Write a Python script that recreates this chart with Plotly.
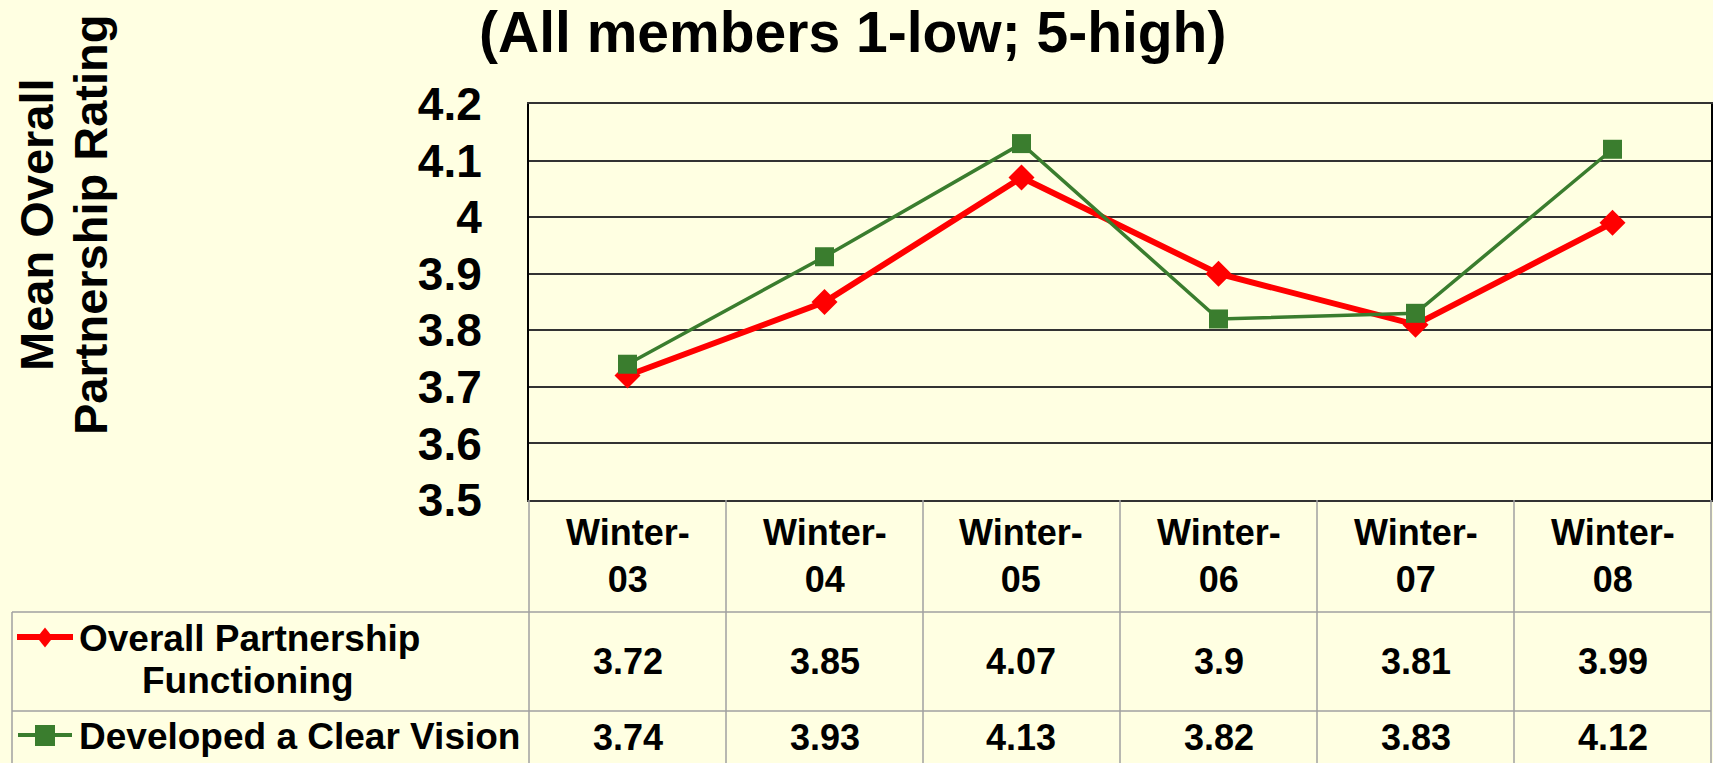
import plotly.graph_objects as go

W, H = 1713, 763

categories = ["Winter-03", "Winter-04", "Winter-05", "Winter-06", "Winter-07", "Winter-08"]
header_top = ["Winter-", "Winter-", "Winter-", "Winter-", "Winter-", "Winter-"]
header_bottom = ["03", "04", "05", "06", "07", "08"]
overall_functioning = [3.72, 3.85, 4.07, 3.9, 3.81, 3.99]
clear_vision = [3.74, 3.93, 4.13, 3.82, 3.83, 4.12]
overall_labels = ["3.72", "3.85", "4.07", "3.9", "3.81", "3.99"]
vision_labels = ["3.74", "3.93", "4.13", "3.82", "3.83", "4.12"]
y_ticks = [3.5, 3.6, 3.7, 3.8, 3.9, 4.0, 4.1, 4.2]
y_tick_text = ["3.5", "3.6", "3.7", "3.8", "3.9", "4", "4.1", "4.2"]

BG = "#FFFFE2"
RED = "#FF0000"
GREEN = "#3A7D2E"
GRID = "#A0A0A0"
FONT = "Liberation Sans, Arial, sans-serif"

# layout in pixels
PL, PR, PT, PB = 529, 1711, 104, 500
TL = 12
ROW1, ROW2, TB = 612, 711, 763


def px(x):
    return x / W


def py(y):
    return 1 - y / H


fig = go.Figure()
fig.add_trace(go.Scatter(
    x=categories, y=overall_functioning, mode="lines+markers",
    line=dict(color=RED, width=6),
    marker=dict(symbol="diamond", size=20, color=RED),
    name="Overall Partnership Functioning", showlegend=False,
))
fig.add_trace(go.Scatter(
    x=categories, y=clear_vision, mode="lines+markers",
    line=dict(color=GREEN, width=3.5),
    marker=dict(symbol="square", size=19, color=GREEN),
    name="Developed a Clear Vision", showlegend=False,
))

shapes = []
annotations = []

# table grid
colw = (PR - PL) / len(categories)
for i in range(len(categories) + 1):
    x = PL + i * colw
    shapes.append(dict(type="line", xref="paper", yref="paper",
                       x0=px(x), x1=px(x), y0=py(PB), y1=py(TB),
                       line=dict(color=GRID, width=1.5)))
shapes.append(dict(type="line", xref="paper", yref="paper",
                   x0=px(TL), x1=px(TL), y0=py(ROW1), y1=py(TB),
                   line=dict(color=GRID, width=1.5)))
for y in (ROW1, ROW2):
    shapes.append(dict(type="line", xref="paper", yref="paper",
                       x0=px(TL), x1=px(PR), y0=py(y), y1=py(y),
                       line=dict(color=GRID, width=1.5)))

tfont = dict(family=FONT, size=36, color="black")
for i in range(len(categories)):
    cx = PL + (i + 0.5) * colw
    annotations.append(dict(xref="paper", yref="paper", x=px(cx), y=py(556),
                            text="<b>%s<br>%s</b>" % (header_top[i], header_bottom[i]),
                            showarrow=False, font=tfont, align="center",
                            xanchor="center", yanchor="middle"))
    annotations.append(dict(xref="paper", yref="paper", x=px(cx), y=py(661),
                            text="<b>%s</b>" % overall_labels[i], showarrow=False,
                            font=tfont, xanchor="center", yanchor="middle"))
    annotations.append(dict(xref="paper", yref="paper", x=px(cx), y=py(737),
                            text="<b>%s</b>" % vision_labels[i], showarrow=False,
                            font=tfont, xanchor="center", yanchor="middle"))

# legend keys in the table
shapes.append(dict(type="line", xref="paper", yref="paper",
                   x0=px(17), x1=px(73), y0=py(637), y1=py(637),
                   line=dict(color=RED, width=6)))
shapes.append(dict(type="path", xref="paper", yref="paper",
                   path="M %f %f L %f %f L %f %f L %f %f Z" % (
                       px(45), py(627.5), px(53), py(637.5), px(45), py(647.5), px(37), py(637.5)),
                   fillcolor=RED, line=dict(color=RED, width=0)))
shapes.append(dict(type="line", xref="paper", yref="paper",
                   x0=px(18), x1=px(72), y0=py(735), y1=py(735),
                   line=dict(color=GREEN, width=4)))
shapes.append(dict(type="rect", xref="paper", yref="paper",
                   x0=px(35), x1=px(55), y0=py(725), y1=py(746),
                   fillcolor=GREEN, line=dict(color=GREEN, width=0)))

lfont = dict(family=FONT, size=37, color="black")
annotations.append(dict(xref="paper", yref="paper", x=px(77), y=py(638),
                        text="<b>Overall Partnership</b>", showarrow=False,
                        font=lfont, xanchor="left", yanchor="middle"))
annotations.append(dict(xref="paper", yref="paper", x=px(248), y=py(680),
                        text="<b>Functioning</b>", showarrow=False,
                        font=lfont, xanchor="center", yanchor="middle"))
annotations.append(dict(xref="paper", yref="paper", x=px(77), y=py(736),
                        text="<b>Developed a Clear Vision</b>", showarrow=False,
                        font=lfont, xanchor="left", yanchor="middle"))

# title
annotations.append(dict(xref="paper", yref="paper", x=px(852), y=py(32),
                        text="<b>(All members 1-low; 5-high)</b>", showarrow=False,
                        font=dict(family=FONT, size=57, color="black"),
                        xanchor="center", yanchor="middle"))
# y axis title (two lines)
yfont = dict(family=FONT, size=47, color="black")
annotations.append(dict(xref="paper", yref="paper", x=px(36), y=py(225),
                        text="<b>Mean Overall</b>", showarrow=False, textangle=-90,
                        font=yfont, xanchor="center", yanchor="middle"))
annotations.append(dict(xref="paper", yref="paper", x=px(90), y=py(225),
                        text="<b>Partnership Rating</b>", showarrow=False, textangle=-90,
                        font=yfont, xanchor="center", yanchor="middle"))

fig.update_layout(
    width=W, height=H,
    margin=dict(l=0, r=0, t=0, b=0, pad=0, autoexpand=False),
    paper_bgcolor=BG, plot_bgcolor=BG,
    shapes=shapes, annotations=annotations,
    xaxis=dict(domain=[px(PL), px(PR)], range=[-0.5, 5.5], type="category",
               showticklabels=False, showgrid=False, zeroline=False,
               showline=True, linecolor="#333333", linewidth=2, mirror=True,
               ticks="", automargin=False),
    yaxis=dict(domain=[py(PB), py(PT)], range=[3.5, 4.2],
               tickvals=y_ticks, ticktext=["<b>%s</b>" % t for t in y_tick_text],
               tickfont=dict(family=FONT, size=46, color="black"),
               showgrid=True, gridcolor="#333333", gridwidth=1.5,
               zeroline=False, showline=True, linecolor="black", linewidth=2,
               mirror=True, ticks="", ticklabelstandoff=36, automargin=False),
)

fig.write_html("out.html", config={"displayModeBar": False},
               post_script="document.body.style.margin='0';document.body.style.background='%s';" % BG)
